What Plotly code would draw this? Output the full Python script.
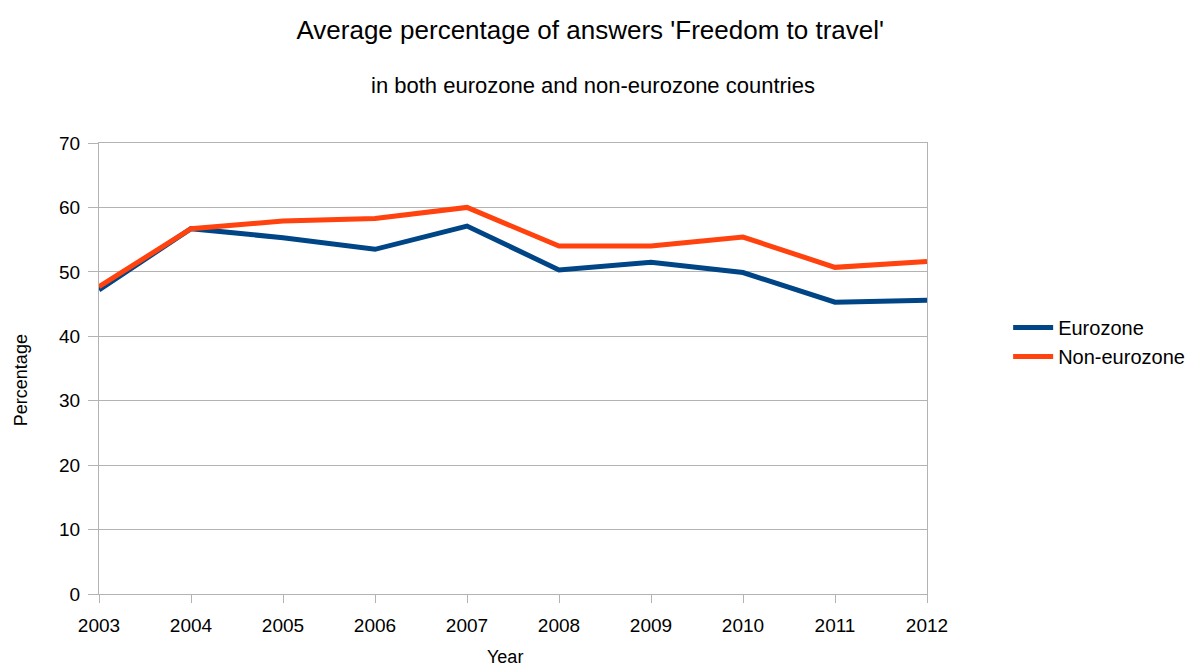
import plotly.graph_objects as go

years = [2003, 2004, 2005, 2006, 2007, 2008, 2009, 2010, 2011, 2012]
eurozone = [47.2, 56.7, 55.3, 53.5, 57.1, 50.3, 51.5, 49.9, 45.3, 45.6]
non_eurozone = [47.7, 56.7, 57.9, 58.3, 60.0, 54.0, 54.0, 55.4, 50.7, 51.6]
y_ticks = [0, 10, 20, 30, 40, 50, 60, 70]

FONT = "Liberation Sans, Arial, Helvetica, sans-serif"
GRID = "#b3b3b3"

fig = go.Figure()
fig.add_trace(go.Scatter(x=years, y=eurozone, mode="lines", name="Eurozone",
                         line=dict(color="#004586", width=5)))
fig.add_trace(go.Scatter(x=years, y=non_eurozone, mode="lines", name="Non-eurozone",
                         line=dict(color="#ff420e", width=5)))

fig.update_layout(
    width=1190, height=668,
    paper_bgcolor="white", plot_bgcolor="white",
    font=dict(family=FONT, color="black"),
    margin=dict(l=99, r=263, t=143, b=74, autoexpand=False),
    title=dict(text="Average percentage of answers 'Freedom to travel'",
               x=0.496, xanchor="center", y=0.955, yanchor="middle",
               font=dict(size=26, family=FONT)),
    annotations=[
        dict(text="in both eurozone and non-eurozone countries",
             xref="paper", yref="paper", x=0.597, y=1.128,
             xanchor="center", yanchor="middle", showarrow=False,
             font=dict(size=22, family=FONT)),
        # axis titles
        dict(text="Year", xref="paper", yref="paper", x=0.490, y=-0.1397,
             xanchor="center", yanchor="middle", showarrow=False,
             font=dict(size=18, family=FONT)),
        dict(text="Percentage", xref="paper", yref="paper", x=-0.094, y=0.4745,
             xanchor="center", yanchor="middle", showarrow=False, textangle=-90,
             font=dict(size=18, family=FONT)),
    ],
    showlegend=True,
    legend=dict(x=1.098, xanchor="left", y=0.559, yanchor="middle",
                font=dict(size=20, family=FONT), bgcolor="rgba(0,0,0,0)",
                tracegroupgap=0, itemwidth=40),
    xaxis=dict(range=[2003, 2012], tickvals=years, ticktext=[str(y) for y in years],
               showgrid=False, showline=True, linecolor=GRID, linewidth=1, mirror=True,
               ticks="outside", ticklen=8, tickcolor=GRID, ticklabelstandoff=6,
               tickfont=dict(size=19), zeroline=False, automargin=False),
    yaxis=dict(range=[0, 70], tickvals=y_ticks, showgrid=True, gridcolor=GRID, gridwidth=1,
               showline=True, linecolor=GRID, linewidth=1, mirror=True,
               ticks="outside", ticklen=10, tickcolor=GRID, ticklabelstandoff=4,
               tickfont=dict(size=19), zeroline=False, automargin=False),
)

fig.write_html("out.html")
